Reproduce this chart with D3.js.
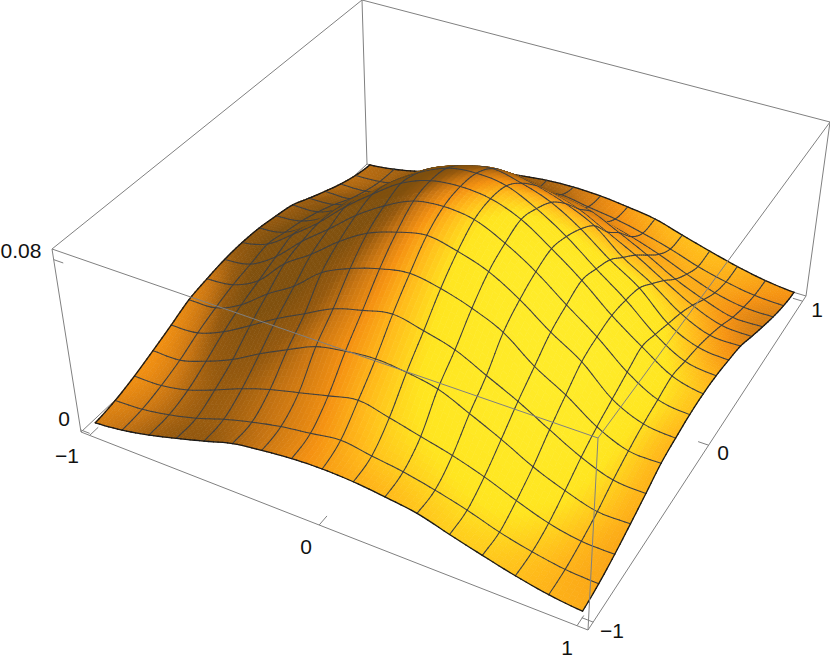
<!DOCTYPE html>
<html><head><meta charset="utf-8">
<script src="https://cdn.jsdelivr.net/npm/d3@7"></script>
<style>html,body{margin:0;padding:0;background:#fff}svg{display:block}text{font-family:"Liberation Sans",Arial,sans-serif;font-size:21px;fill:#111}</style>
</head><body><svg id="c" width="830" height="664"></svg>
<script>
// Mesh coordinates and heights
const xNodes = [-1,-0.875,-0.75,-0.625,-0.5,-0.375,-0.25,-0.125,0,0.125,0.25,0.375,0.5,0.625,0.75,0.875,1];
const yNodes = [-1,-0.875,-0.75,-0.625,-0.5,-0.375,-0.25,-0.125,0,0.125,0.25,0.375,0.5,0.625,0.75,0.875,1];
const zRows = [
[.002,.0035,.0062,.0097,.0135,.0175,.0195,.021,.0215,.021,.0195,.0175,.0135,.0097,.0062,.0035,.002],
[.0035,.0042,.0065,.0098,.0143,.018,.021,.023,.025,.023,.021,.018,.0143,.0098,.0065,.0042,.0035],
[.0062,.0065,.0092,.014,.0195,.024,.0275,.031,.034,.031,.0275,.024,.0195,.014,.0092,.0065,.0062],
[.0097,.0098,.014,.0196,.027,.0337,.040,.0427,.044,.0427,.040,.0337,.027,.0196,.014,.0098,.0097],
[.0135,.0143,.0195,.027,.035,.042,.049,.053,.056,.053,.049,.042,.035,.027,.0195,.0143,.0135],
[.0175,.018,.024,.0337,.042,.053,.0595,.064,.0665,.064,.0595,.053,.042,.0337,.024,.018,.0175],
[.0195,.021,.0275,.040,.049,.0595,.068,.073,.076,.073,.068,.0595,.049,.040,.0275,.021,.0195],
[.021,.023,.031,.0427,.053,.064,.073,.0797,.0815,.0797,.073,.064,.053,.0427,.031,.023,.021],
[.0215,.025,.034,.044,.056,.0665,.076,.0815,.083,.0815,.076,.0665,.056,.044,.034,.025,.0215],
[.021,.023,.031,.0427,.053,.064,.073,.0797,.0815,.0797,.073,.064,.053,.0427,.031,.023,.021],
[.0195,.021,.0275,.040,.049,.0595,.068,.073,.076,.073,.068,.0595,.049,.040,.0275,.021,.0195],
[.0175,.018,.024,.0337,.042,.053,.0595,.064,.0665,.064,.0595,.053,.042,.0337,.024,.018,.0175],
[.0135,.0143,.0195,.027,.035,.042,.049,.053,.056,.053,.049,.042,.035,.027,.0195,.0143,.0135],
[.0097,.0098,.014,.0196,.027,.0337,.040,.0427,.044,.0427,.040,.0337,.027,.0196,.014,.0098,.0097],
[.0062,.0065,.0092,.014,.0195,.024,.0275,.031,.034,.031,.0275,.024,.0195,.014,.0092,.0065,.0062],
[.0035,.0042,.0065,.0098,.0143,.018,.021,.023,.025,.023,.021,.018,.0143,.0098,.0065,.0042,.0035],
[.002,.0035,.0062,.0097,.0135,.0175,.0195,.021,.0215,.021,.0195,.0175,.0135,.0097,.0062,.0035,.002]
];
const xTicks = [-1,0,1], yTicks = [-1,0,1], zTicks = [0,0.08];

// Box corners on screen: A(-,-) F(+,-) R(+,+) B(-,+)
const bottomQuad = [[81,432],[588,630],[806,296],[367,164]];
const topQuad    = [[52,249],[598,438],[830,122],[362,0]];
function homography(q){
  const [[x0,y0],[x1,y1],[x2,y2],[x3,y3]] = q;
  const dx1=x1-x2,dx2=x3-x2,sx=x0-x1+x2-x3,dy1=y1-y2,dy2=y3-y2,sy=y0-y1+y2-y3;
  const den=dx1*dy2-dx2*dy1, g=(sx*dy2-dx2*sy)/den, h=(dx1*sy-sx*dy1)/den;
  const a=x1-x0+g*x1,b=x3-x0+h*x3,d=y1-y0+g*y1,e=y3-y0+h*y3;
  return {g,h,map:(u,v)=>{const w=g*u+h*v+1;return [(a*u+b*v+x0)/w,(d*u+e*v+y0)/w];},w:(u,v)=>g*u+h*v+1};
}
const H0=homography(bottomQuad), H1=homography(topQuad);
const xS=d3.scaleLinear().domain([-1.04,1.04]).range([0,1]);
const yS=d3.scaleLinear().domain([-1.04,1.04]).range([0,1]);
const zS=d3.scaleLinear().domain([-0.001,0.085]).range([0,1]);
const project=(u,v,t)=>{const p=H0.map(u,v),q=H1.map(u,v);return [p[0]+(q[0]-p[0])*t,p[1]+(q[1]-p[1])*t];};
const depthOf=(u,v,t)=>H0.w(u,v)-0.068*t;

// smooth surface between mesh nodes
const N=xNodes.length, SUB=6;
const cr=(a,b,c,d,s)=>0.5*((2*b)+(c-a)*s+(2*a-5*b+4*c-d)*s*s+(3*b-a-3*c+d)*s*s*s);
const clampI=i=>Math.max(0,Math.min(N-1,i));
function bicubic(grid,fi,fj){
  const i=Math.min(N-2,Math.floor(fi)), j=Math.min(N-2,Math.floor(fj)), si=fi-i, sj=fj-j;
  const col=[-1,0,1,2].map(dj=>{const r=grid[clampI(j+dj)];return cr(r[clampI(i-1)],r[i],r[i+1],r[clampI(i+2)],si);});
  return cr(col[0],col[1],col[2],col[3],sj);
}
const coord=(arr,f)=>{const i=Math.min(N-2,Math.floor(f));return arr[i]+(arr[i+1]-arr[i])*(f-i);};
function pt(fi,fj){
  const u=xS(coord(xNodes,fi)), v=yS(coord(yNodes,fj)), t=zS(bicubic(zRows,fi,fj));
  return {u,v,t,p:project(u,v,t)};
}
// shading: a lighting value per mesh node, softened, blended across the cells
const viewD=[.387,-.715,.595], viewR=[.879,.476,0], viewS=[-.283,.523,.813];
const light=[.60,-.20,.775];
const dot=(a,b)=>a[0]*b[0]+a[1]*b[1]+a[2]*b[2];
const ramp=d3.scaleLinear().domain([-.05,.08,.2,.34,.48,.64,1]).range(["#80500e","#95590f","#c87512","#f59212","#ffb81a","#ffe520","#fff030"]).clamp(true);
const rawLight=d3.range(N).map(j=>d3.range(N).map(i=>{
  const i0=clampI(i-1),i1=clampI(i+1),j0=clampI(j-1),j1=clampI(j+1);
  const nx=-.4*(zS(zRows[j][i1])-zS(zRows[j][i0]))/(xS(xNodes[i1])-xS(xNodes[i0]));
  const ny=-.4*(zS(zRows[j1][i])-zS(zRows[j0][i]))/(yS(yNodes[j1])-yS(yNodes[j0]));
  const L=Math.hypot(nx,ny,1), n=[nx/L,ny/L,1/L];
  return dot([dot(n,viewR),dot(n,viewS),dot(n,viewD)],light);
}));
const kernel=[.25,.5,.25];
const nodeLight=d3.range(N).map(j=>d3.range(N).map(i=>
  d3.sum(kernel,(kj,dj)=>d3.sum(kernel,(ki,di)=>kj*ki*rawLight[clampI(j+dj-1)][clampI(i+di-1)]))));
const shade=(fi,fj)=>ramp(bicubic(nodeLight,fi,fj));

const items=[];
const line=d3.line();
for(let a=0;a<(N-1)*SUB;a++)for(let b=0;b<(N-1)*SUB;b++){
  const f0=a/SUB,f1=(a+1)/SUB,g0=b/SUB,g1=(b+1)/SUB;
  const p=[pt(f0,g0),pt(f1,g0),pt(f1,g1),pt(f0,g1)];
  const u=(p[0].u+p[2].u)/2,v=(p[0].v+p[2].v)/2,t=d3.mean(p,d=>d.t);
  items.push({k:0,depth:depthOf(u,v,t),d:line(p.map(q=>q.p))+"Z",fill:shade((f0+f1)/2,(g0+g1)/2)});
}
const EPS=0.004;
for(let a=0;a<N;a++)for(let s=0;s<(N-1)*SUB;s++){
  const b=a===0||a===N-1;
  [[pt(a,s/SUB),pt(a,(s+1)/SUB)],[pt(s/SUB,a),pt((s+1)/SUB,a)]].forEach(seg=>{
    items.push({k:1,edge:b,depth:depthOf((seg[0].u+seg[1].u)/2,(seg[0].v+seg[1].v)/2,(seg[0].t+seg[1].t)/2)-EPS,d:line(seg.map(q=>q.p))});
  });
}
items.sort((x,y)=>y.depth-x.depth);

const svg=d3.select("#c");
const boxColor="#808080";
const edges=(ps)=>svg.append("g").attr("fill","none").attr("stroke",boxColor).attr("stroke-width",1)
  .selectAll("path").data(ps).join("path").attr("d",d=>line(d));
// back edges, behind the surface
edges([[bottomQuad[0],bottomQuad[3]],[bottomQuad[3],bottomQuad[2]],[bottomQuad[3],topQuad[3]]]);
svg.append("g").selectAll("path").data(items).join("path")
  .attr("d",d=>d.d)
  .attr("fill",d=>d.k?"none":d.fill)
  .attr("stroke",d=>d.k?(d.edge?"#1a1a1a":"#404040"):d.fill)
  .attr("stroke-width",d=>d.k?(d.edge?1.3:1.05):0.7)
  .attr("stroke-linecap","round");
// front edges, over the surface
edges([[bottomQuad[0],bottomQuad[1]],[bottomQuad[1],bottomQuad[2]],
  [topQuad[0],topQuad[1]],[topQuad[1],topQuad[2]],[topQuad[2],topQuad[3]],[topQuad[3],topQuad[0]],
  [bottomQuad[0],topQuad[0]],[bottomQuad[1],topQuad[1]],[bottomQuad[2],topQuad[2]]]);
// ticks
const tickLines=[
  ...xTicks.map(x=>[project(xS(x),0,0),project(xS(x),.025,0)]),
  ...yTicks.map(y=>[project(1,yS(y),0),project(.98,yS(y),0)]),
  ...zTicks.map(z=>[project(0,0,zS(z)),project(.02,0,zS(z))])
];
edges(tickLines);
// tick labels
const fmt=v=>String(v).replace("-","\u2212");
const labels=[
  ...[[67,463],[306,554],[567,655]].map((p,i)=>({s:fmt(xTicks[i]),p})),
  ...[[612,638],[723,460],[817,317]].map((p,i)=>({s:fmt(yTicks[i]),p})),
  {s:fmt(zTicks[0]),p:[64,426]},{s:fmt(zTicks[1]),p:[21,258]}
];
svg.append("g").selectAll("text").data(labels).join("text")
  .attr("x",d=>d.p[0]).attr("y",d=>d.p[1]).attr("text-anchor","middle").text(d=>d.s);
</script></body></html>
